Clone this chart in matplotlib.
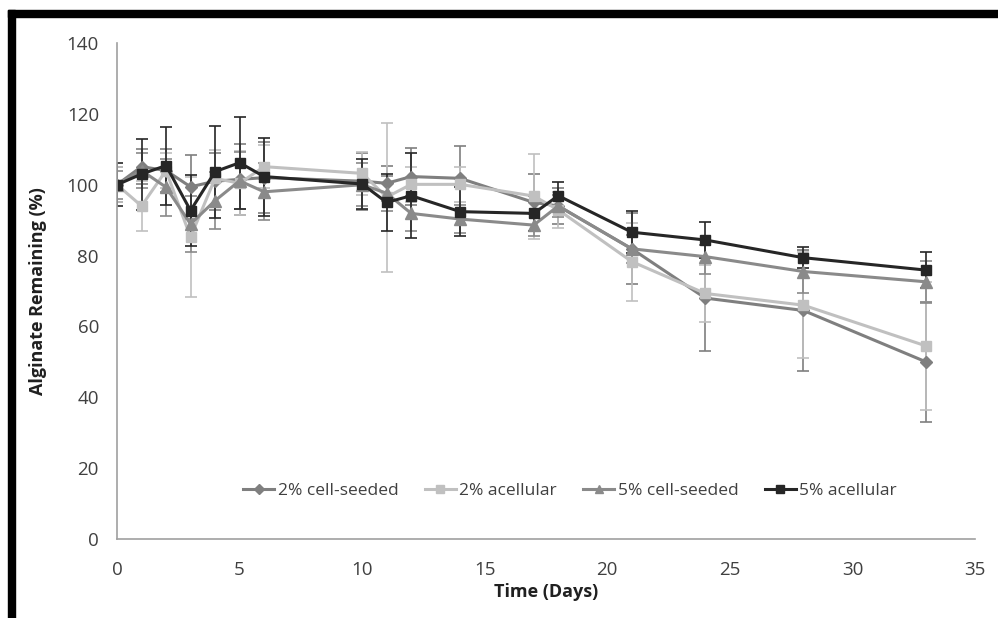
import numpy as np
import matplotlib
matplotlib.use("Agg")
import matplotlib.pyplot as plt
from matplotlib.patches import Rectangle
from matplotlib.lines import Line2D

plt.rcParams['font.family'] = ['Open Sans', 'DejaVu Sans']

# Data
days = [0, 1, 2, 3, 4, 5, 6, 10, 11, 12, 14, 17, 18, 21, 24, 28, 33]

cell2 = [100, 105.1, 104, 99.4, 101, 101.5, 102, 101, 100.4, 102.3, 101.8, 95, 94, 81.9, 68, 64.5, 50]
cell2_err = [5, 5, 6, 9, 8, 10, 10, 8, 5, 8, 9, 8, 5, 10, 15, 17, 17]

acell2 = [100, 94.0, 104, 85.2, 101.8, 100.4, 105.1, 103.2, 96.5, 100.1, 100.1, 96.8, 92.9, 78.3, 69.3, 66, 54.5]
acell2_err = [5, 7, 5, 17, 8, 9, 6, 6, 21, 5, 5, 12, 5, 11, 8, 15, 18]

cell5 = [100, 104, 99.3, 88.9, 95.5, 101.1, 98.0, 100, 97.6, 91.9, 90.3, 88.6, 94, 81.9, 79.7, 75.5, 72.6]
cell5_err = [4, 5, 8, 8, 8, 8, 8, 6, 5, 5, 4, 3, 3, 4, 5, 6, 6]

acell5 = [100, 103.0, 105.4, 92.7, 103.7, 106.2, 102.3, 100.2, 95.0, 96.9, 92.4, 91.9, 96.9, 86.6, 84.4, 79.4, 75.9]
acell5_err = [6, 10, 11, 10, 13, 13, 11, 7, 8, 12, 7, 5, 4, 6, 5, 3, 5]

fig = plt.figure(figsize=(9.98, 6.18), dpi=100)

# black frame along top and left edges of the screenshot
fig.patches.append(Rectangle((8 / 998, 0), 7 / 998, 1 - 10 / 618,
                             transform=fig.transFigure, color='black', zorder=10))
fig.patches.append(Rectangle((8 / 998, 1 - 17 / 618), 1, 7 / 618,
                             transform=fig.transFigure, color='black', zorder=10))

ax = fig.add_axes([117 / 998, 1 - 539 / 618, 858 / 998, 496 / 618])

series = [
    ("2% cell-seeded", cell2, cell2_err, '#7f7f7f', 'D', 6),
    ("2% acellular", acell2, acell2_err, '#c0c0c0', 's', 7),
    ("5% cell-seeded", cell5, cell5_err, '#8a8a8a', '^', 8),
    ("5% acellular", acell5, acell5_err, '#262626', 's', 7),
]

handles = []
for label, vals, errs, col, mk, ms in series:
    ax.errorbar(days, vals, yerr=errs, color=col, ecolor=col, elinewidth=1.2,
                capsize=4, capthick=1.2, marker=mk, markersize=ms, linewidth=2.2)
    handles.append(Line2D([], [], color=col, marker=mk, markersize=ms * 0.8,
                          linewidth=2.2, label=label))

ax.set_xlim(0, 35)
ax.set_ylim(0, 140)
ax.set_xticks(np.arange(0, 36, 5))
ax.set_yticks(np.arange(0, 141, 20))
ax.tick_params(length=0, labelsize=13.5, labelcolor='#404040')
ax.tick_params(axis='y', pad=13)
ax.tick_params(axis='x', pad=16)

for s in ['top', 'right']:
    ax.spines[s].set_visible(False)
for s in ['left', 'bottom']:
    ax.spines[s].set_color('#a0a0a0')
    ax.spines[s].set_linewidth(1.2)

ax.set_xlabel("Time (Days)", fontsize=13, fontweight='bold', color='#202020', labelpad=3)
ax.set_ylabel("Alginate Remaining (%)", fontsize=13, fontweight='bold', color='#202020', labelpad=14)

ax.legend(handles=handles, loc='center', bbox_to_anchor=(0.528, 0.097), ncol=4,
          frameon=False, fontsize=12.5, handlelength=1.8, handletextpad=0.2,
          columnspacing=1.5, labelcolor='#404040')

fig.savefig("out.png", dpi=100)
